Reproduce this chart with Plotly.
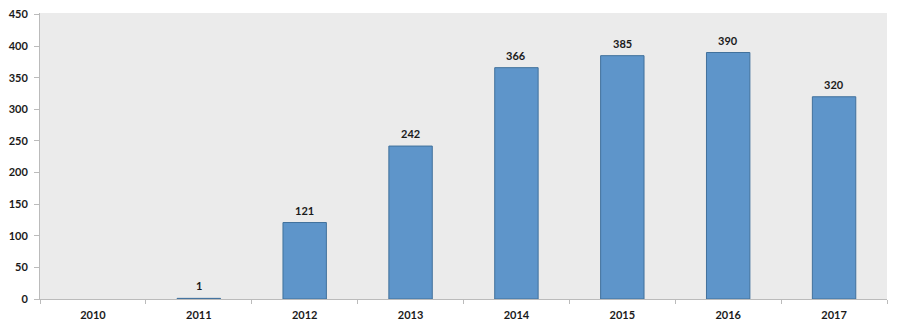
import plotly.graph_objects as go

years = ["2010", "2011", "2012", "2013", "2014", "2015", "2016", "2017"]
values = [0, 1, 121, 242, 366, 385, 390, 320]
labels = ["" if v == 0 else str(v) for v in values]

fig = go.Figure(go.Bar(
    x=years, y=values,
    marker=dict(color="#5E95CA",
                line=dict(color="#41719C", width=[0 if v == 0 else 1 for v in values])),
    cliponaxis=False,
))
for i, (v, lab) in enumerate(zip(values, labels)):
    if lab:
        fig.add_annotation(x=i, y=v, text=lab, showarrow=False, yanchor="bottom",
                           yshift=4, font=dict(family="Lato", size=11, color="#1a1a1a", weight="bold"))
fig.update_layout(
    width=900, height=329,
    margin=dict(l=40, r=13, t=13, b=30),
    paper_bgcolor="white", plot_bgcolor="#EBEBEB",
    bargap=0.59, showlegend=False,
    font=dict(family="Lato", size=11, color="#1a1a1a", weight="bold"),
)
fig.update_xaxes(type="category", categoryorder="array", categoryarray=years,
                 range=[-0.5, len(years) - 0.5],
                 tickson="boundaries", ticks="outside", ticklen=4,
                 tickcolor="#BBBBBB", showline=True, linecolor="#BBBBBB", linewidth=1,
                 showgrid=False, automargin=False, ticklabelstandoff=6,
                 tickfont=dict(size=11, weight="bold"))
fig.update_yaxes(range=[0, 452.5], tickvals=list(range(0, 451, 50)), ticks="outside", ticklen=5,
                 tickcolor="#BBBBBB", showline=True, linecolor="#BBBBBB", linewidth=1,
                 showgrid=False, zeroline=False, automargin=False, ticklabelstandoff=4,
                 tickfont=dict(size=11, weight="bold"))
fig.write_html("out.html")
